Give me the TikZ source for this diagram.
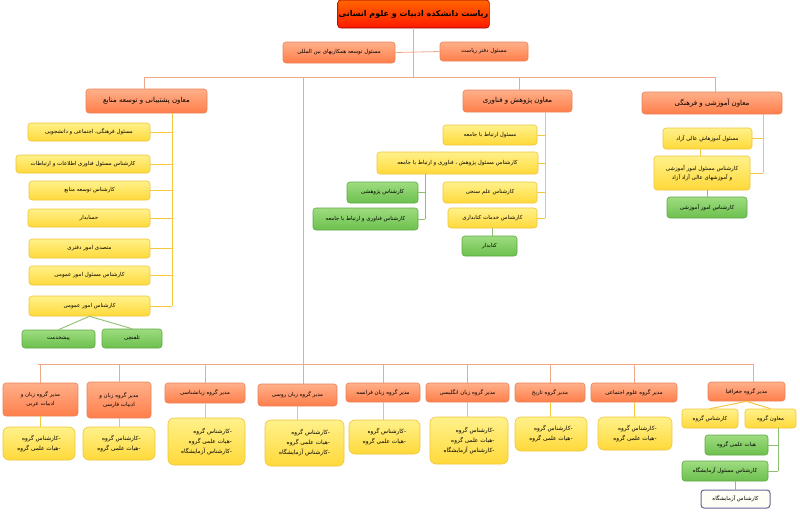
\documentclass[tikz,border=0pt]{standalone}
\usepackage{fontspec}
\TeXXeTstate=1
\newfontfamily\arabicfont[Script=Arabic]{DejaVu Sans}
\newcommand{\fa}[1]{{\arabicfont\beginR #1\endR}}
\definecolor{obord}{HTML}{E8825A}
\definecolor{otop}{HTML}{FFB08A}
\definecolor{obot}{HTML}{FF7E4A}
\definecolor{ytop}{HTML}{FFF18A}
\definecolor{ybot}{HTML}{FFD93A}
\definecolor{ybord}{HTML}{EFC53A}
\definecolor{gtop}{HTML}{9EDC80}
\definecolor{gbot}{HTML}{6CC04E}
\definecolor{gbord}{HTML}{5FA845}
\definecolor{oline}{HTML}{F0A888}
\definecolor{yline}{HTML}{F5C640}
\definecolor{gline}{HTML}{8CC070}
\tikzset{
  base/.style={rounded corners=3pt, inner sep=1pt, align=center, font=\fontsize{5.5}{9}\selectfont, line width=0.6pt},
  obox/.style={base, draw=obord, top color=otop, bottom color=obot},
  ybox/.style={base, draw=ybord, top color=ytop, bottom color=ybot},
  gbox/.style={base, draw=gbord, top color=gtop, bottom color=gbot},
  wbox/.style={base, draw=black!70!blue!60, fill=yellow!4, line width=1pt},
  ol/.style={draw=oline, line width=0.8pt},
  yl/.style={draw=yline, line width=1pt},
  gl/.style={draw=gline, line width=0.9pt},
  sz/.style 2 args={minimum width=#1pt, minimum height=#2pt},
}
\begin{document}
\begin{tikzpicture}[x=1pt,y=-1pt]
\useasboundingbox (0,0) rectangle (800,515);
% top
\node[base, draw=red!60!black, top color=red!20!orange, bottom color=red!80!orange, sz={143}{28}, font=\fontsize{8}{10}\selectfont\bfseries] (top) at (413.5,14) {\fa{ریاست دانشکده ادبیات و علوم انسانی}};
\node[obox, sz={112}{21}] (intl) at (339,52.5) {\fa{مسئول توسعه همکاریهای بین المللی}};
\node[obox, sz={88}{19}] (office) at (484,51.5) {\fa{مسئول دفتر ریاست}};
\coordinate (h1) at (0,77);
\coordinate (hb) at (0,364);
% VPs
\node[obox, sz={121}{24}, font=\fontsize{7}{9}\selectfont] (lvp) at (146.5,101) {\fa{معاون پشتیبانی و توسعه منابع}};
\node[obox, sz={109}{22}, font=\fontsize{7}{9}\selectfont] (rvp) at (517.5,101) {\fa{معاون پژوهش و فناوری}};
\node[obox, sz={140}{22}, font=\fontsize{7}{9}\selectfont] (avp) at (712,103) {\fa{معاون آموزشی و فرهنگی}};
\coordinate (mt) at (303,77);
\begin{scope}[on background layer/.try]
\draw[ol] (top.south) -- (top.south |- h1);
\draw[ol] (intl.east) -- (office.west);
\draw[ol] (144,77) -- (715,77);
\draw[ol] (144,77) -- (144,89);
\draw[ol] (519,77) -- (519,90);
\draw[ol] (715,77) -- (715,92);
\draw[ol] (mt) -- (303,384);
\draw[ol] (38,364) -- (753,364);
\end{scope}
% left subtree
\coordinate (ls) at (172,0);
\node[ybox, sz={122}{18}] (l1) at (89,132) {\fa{مسئول فرهنگی، اجتماعی و دانشجویی}};
\node[ybox, sz={134}{18}] (l2) at (83,164) {\fa{کارشناس مسئول فناوری اطلاعات و ارتباطات}};
\node[ybox, sz={121}{19}] (l3) at (89.5,190.5) {\fa{کارشناس توسعه منابع}};
\node[ybox, sz={122}{18}] (l4) at (89,218) {\fa{حسابدار}};
\node[ybox, sz={121}{19}] (l5) at (89.5,248.5) {\fa{متصدی امور دفتری}};
\node[ybox, sz={121}{19}] (l6) at (89.5,275.5) {\fa{کارشناس مسئول امور عمومی}};
\node[ybox, sz={121}{20}] (l7) at (89.5,306) {\fa{کارشناس امور عمومی}};
\draw[yl] (lvp.south -| ls) -- (l7.east -| ls);
\foreach \n in {l1,l2,l3,l4,l5,l6,l7} \draw[yl] (\n.east) -- (\n.east -| ls);
\node[gbox, sz={73}{18}] (g1) at (58.5,339) {\fa{پیشخدمت}};
\node[gbox, sz={60}{19}] (g2) at (132,338.5) {\fa{تلفنچی}};
\draw[gl] (l7.south) -- (g1.north);
\draw[gl] (l7.south) -- (g2.north);
% research
\coordinate (rs) at (545,0);
\node[ybox, sz={94}{20}] (r1) at (490,135) {\fa{مسئول ارتباط با جامعه}};
\node[ybox, sz={161}{22}] (r2) at (457.5,163) {\fa{کارشناس مسئول پژوهش ، فناوری و ارتباط با جامعه}};
\node[ybox, sz={94}{21}] (r3) at (490,192.5) {\fa{کارشناس علم سنجی}};
\node[ybox, sz={89}{20}] (r4) at (492.5,218) {\fa{کارشناس خدمات کتابداری}};
\draw[yl] (rvp.south -| rs) -- (r4.east -| rs);
\foreach \n in {r1,r2,r3,r4} \draw[yl] (\n.east) -- (\n.east -| rs);
\node[gbox, sz={55}{20}] (r5) at (489.5,246) {\fa{کتابدار}};
\draw[gl] (r4.south) -- (r4.south |- r5.north);
\coordinate (gs) at (425,0);
\node[gbox, sz={71}{21}] (rg1) at (382.5,192.5) {\fa{کارشناس پژوهشی}};
\node[gbox, sz={105}{22}] (rg2) at (365.5,219) {\fa{کارشناس فناوری و ارتباط با جامعه}};
\draw[gl] (r2.south -| gs) -- (rg2.east -| gs);
\draw[gl] (rg1.east) -- (rg1.east -| gs);
\draw[gl] (rg2.east) -- (rg2.east -| gs);
% academic
\coordinate (as) at (763,0);
\node[ybox, sz={89}{21}] (a1) at (707.5,138.5) {\fa{مسئول آموزهاش عالی آزاد}};
\node[ybox, sz={96}{34}] (a2) at (702,173) {\fa{کارشناس مسئول امور آموزشی}\\\fa{و آموزشهای عالی آزاد آزاد}};
\node[gbox, sz={80}{21}] (a3) at (707,207.5) {\fa{کارشناس امور آموزشی}};
\draw[yl] (avp.south -| as) -- (a2.east -| as);
\draw[yl] (a1.east) -- (a1.east -| as);
\draw[yl] (a2.east) -- (a2.east -| as);
\draw[yl] (a1.south -| 700,0) -- (a2.north -| 700,0);
\draw[gl] (a2.south -| a3.north) -- (a3.north);
% bottom managers
\node[obox, sz={75}{33}] (b1) at (40.5,399.5) {\fa{مدیر گروه زبان و}\\\fa{ادبیات عربی}};
\node[obox, sz={64}{36}] (b2) at (119,400) {\fa{مدیر گروه زبان و}\\\fa{ادبیات فارسی}};
\node[obox, sz={80}{20}] (b3) at (205,393) {\fa{مدیر گروه زبانشناسی}};
\node[obox, sz={79}{22}] (b4) at (297.5,395) {\fa{مدیر گروه زبان روسی}};
\node[obox, sz={74}{19}] (b5) at (383,392.5) {\fa{مدیر گروه زبان فرانسه}};
\node[obox, sz={83}{19}] (b6) at (467.5,392.5) {\fa{مدیر گروه زبان انگلیسی}};
\node[obox, sz={70}{19}] (b7) at (550,392.5) {\fa{مدیر گروه تاریخ}};
\node[obox, sz={86}{19}] (b8) at (634,392.5) {\fa{مدیر گروه علوم اجتماعی}};
\node[obox, sz={77}{19}] (b9) at (746.5,391.5) {\fa{مدیر گروه جغرافیا}};
\foreach \n in {b1,b2,b3,b5,b6,b7,b8} \draw[ol] (\n.north) -- (\n.north |- hb);
\draw[ol] (753,364) -- (753,382);
% lower yellow
\tikzset{lb/.style={ybox, rounded corners=6pt, align=right, font=\fontsize{5.8}{10}\selectfont}}
\newcommand{\twol}{\fa{-کارشناس گروه}\\\fa{-هیات علمی گروه}}
\newcommand{\threel}{\fa{-کارشناس گروه}\\\fa{-هیات علمی گروه}\\\fa{-کارشناس آزمایشگاه}}
\node[lb, sz={72}{33}] (y1) at (39,443.5) {\twol};
\node[lb, sz={72}{33}] (y2) at (119,443.5) {\twol};
\node[lb, sz={77}{47}] (y3) at (206.5,441.5) {\threel};
\node[lb, sz={79}{46}] (y4) at (304.5,443) {\threel};
\node[lb, sz={71}{34}] (y5) at (384.5,437) {\twol};
\node[lb, sz={78}{47}] (y6) at (469,440.5) {\threel};
\node[lb, sz={72}{34}] (y7) at (551,434) {\twol};
\node[lb, sz={74}{33}] (y8) at (635,433.5) {\twol};
\foreach \i in {1,...,8} \draw[yl] (b\i.south) -- (b\i.south |- y\i.north);
% geography
\node[ybox, sz={56}{19}] (gy1) at (710,418.5) {\fa{کارشناس گروه}};
\node[ybox, sz={51}{19}] (gy2) at (770.5,418.5) {\fa{معاون گروه}};
\draw[yl] (b9.south) -- (gy1.north);
\draw[yl] (b9.south) -- (gy2.north);
\node[gbox, sz={63}{20}] (gg1) at (736.5,445) {\fa{هیات علمی گروه}};
\node[gbox, sz={86}{20}] (gg2) at (725,471) {\fa{کارشناس مسئول آزمایشگاه}};
\coordinate (ggs) at (778,0);
\draw[gl] (gy2.south -| ggs) -- (gg2.east -| ggs);
\draw[gl] (gg1.east) -- (gg1.east -| ggs);
\draw[gl] (gg2.east) -- (gg2.east -| ggs);
\node[wbox, sz={69}{18}] (w1) at (735.5,499) {\fa{کارشناس آزمایشگاه}};
\draw[gl] (w1.north |- gg2.south) -- (w1.north);
\end{tikzpicture}
\end{document}
